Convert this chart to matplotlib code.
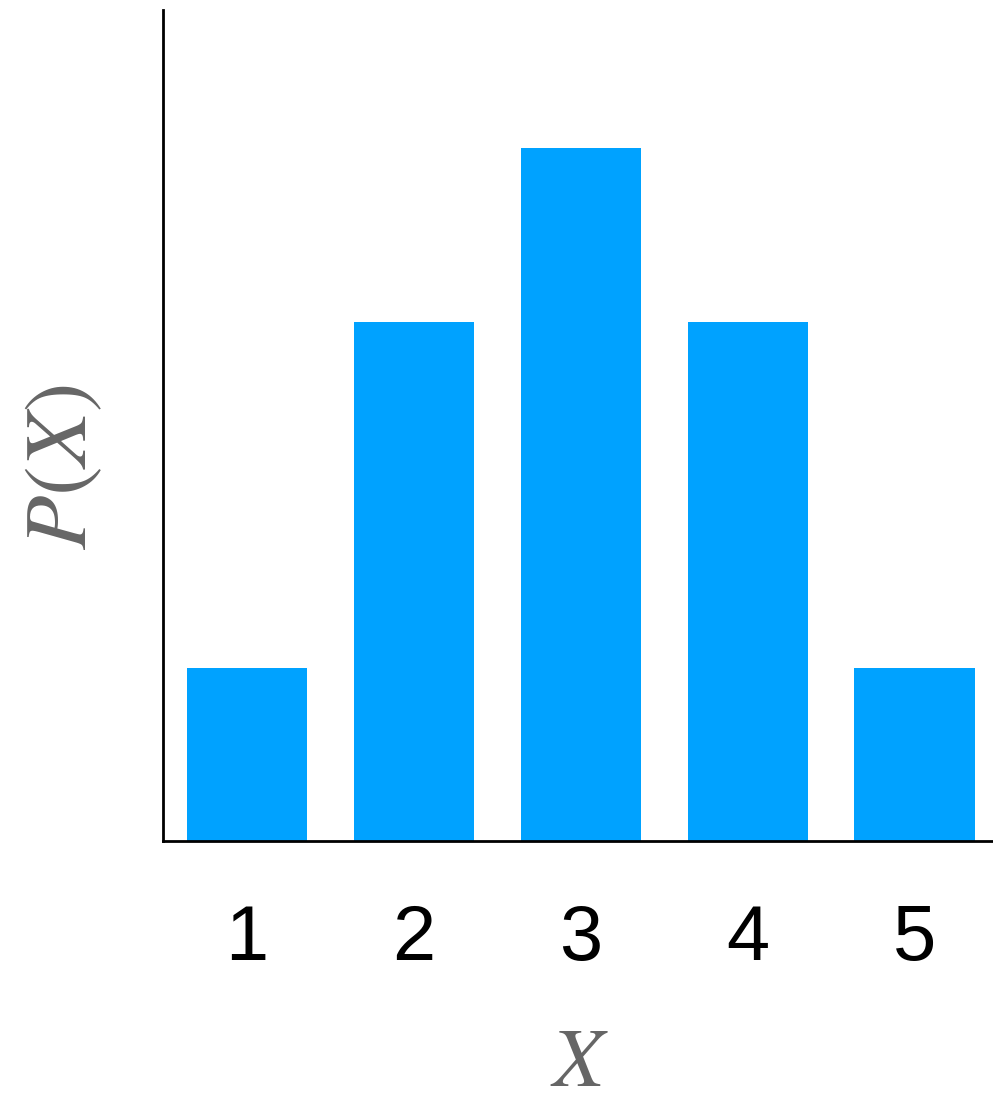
import matplotlib
matplotlib.use('Agg')
import matplotlib.pyplot as plt

x_values = [1, 2, 3, 4, 5]
probs = [1 / 12, 3 / 12, 4 / 12, 3 / 12, 1 / 12]
tick_labels = ['1', '2', '3', '4', '5']

plt.rcParams['mathtext.fontset'] = 'stix'

fig = plt.figure(figsize=(9.93, 10.93), dpi=100)
ax = fig.add_axes([0.164, 0.2306, 0.836, 0.7603])

ax.bar(x_values, probs, width=0.72, color='#00a2ff')
ax.set_xlim(0.497, 5.47)
ax.set_ylim(0, 0.4)

# only left and bottom spines
ax.spines['top'].set_visible(False)
ax.spines['right'].set_visible(False)
ax.spines['left'].set_linewidth(2)
ax.spines['bottom'].set_linewidth(2)

ax.set_xticks(x_values)
ax.set_xticklabels(tick_labels, fontsize=56, family='Liberation Sans')
ax.tick_params(axis='x', length=0, pad=45)
ax.set_yticks([])

ax.set_xlabel('$X$', fontsize=60, color='#666666')
ax.set_ylabel('$P(X)$', fontsize=64, color='#666666')
ax.xaxis.set_label_coords(0.502, -0.218)
ax.yaxis.set_label_coords(-0.07, 0.45)

fig.savefig('out.png', dpi=100)
